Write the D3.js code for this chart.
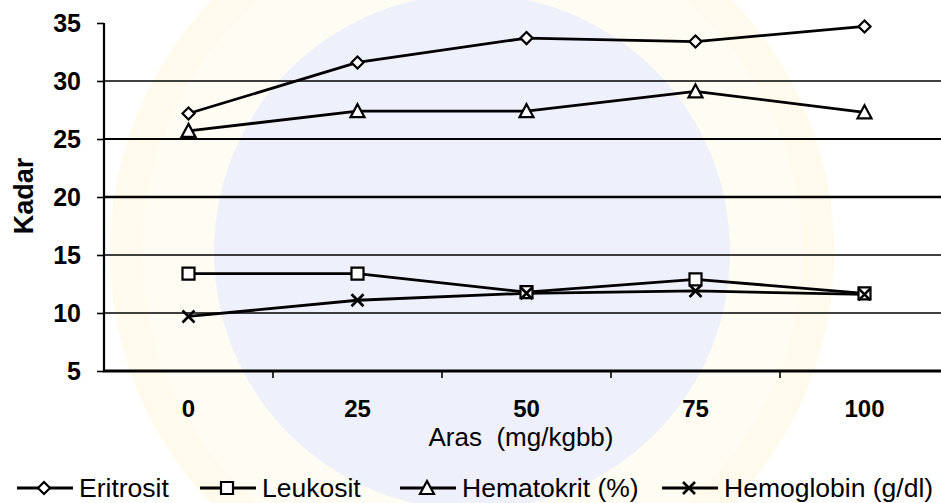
<!DOCTYPE html>
<html>
<head>
<meta charset="utf-8">
<script src="https://cdn.jsdelivr.net/npm/d3@7"></script>
<style>
  html, body { margin: 0; padding: 0; background: #fff; }
  svg { display: block; font-family: "Liberation Sans", Arial, Helvetica, sans-serif; }
</style>
</head>
<body>
<svg id="chart" width="941" height="503"></svg>
<script>
// Dose levels (mg/kgbb)
const categories = ["0", "25", "50", "75", "100"];

// Blood values per dose level
const eritrosit  = [27.2, 31.6, 33.7, 33.4, 34.7];
const leukosit   = [13.4, 13.4, 11.8, 12.9, 11.7];
const hematokrit = [25.7, 27.4, 27.4, 29.1, 27.3];
const hemoglobin = [9.7, 11.1, 11.7, 11.9, 11.6];

const seriesNames = ["Eritrosit", "Leukosit", "Hematokrit (%)", "Hemoglobin (g/dl)"];
const yTicks = [5, 10, 15, 20, 25, 30, 35];
const gridValues = [10, 15, 20, 25, 30];

const W = 941, H = 503;
const plot = { left: 104, right: 949, top: 23, bottom: 371 };

const svg = d3.select("#chart");

// faint seal printed behind the chart
const seal = svg.append("g").attr("class", "seal");
seal.append("circle").attr("cx", 472).attr("cy", 252).attr("r", 362).attr("fill", "#fffaeb");
seal.append("circle").attr("cx", 472).attr("cy", 252).attr("r", 330).attr("fill", "#fffcf3");
seal.append("circle").attr("cx", 472).attr("cy", 252).attr("r", 258).attr("fill", "#eef0fb");

const x = d3.scaleBand().domain(categories).range([plot.left, plot.right]).padding(0);
const y = d3.scaleLinear().domain([5, 35]).range([plot.bottom, plot.top]);
const cx = c => x(c) + x.bandwidth() / 2;

// horizontal gridlines
const gridWidth = { 10: 1.6, 15: 1.4, 20: 2.6, 25: 1.9, 30: 1.3 };
svg.append("g").selectAll("line").data(gridValues).join("line")
  .attr("x1", plot.left).attr("x2", W)
  .attr("y1", d => y(d)).attr("y2", d => y(d))
  .attr("stroke", "#000").attr("stroke-width", d => gridWidth[d]);

// y axis
const yAxis = svg.append("g")
  .attr("transform", `translate(${plot.left},0)`)
  .call(d3.axisLeft(y).tickValues(yTicks).tickSize(7).tickPadding(16));
yAxis.select(".domain").attr("stroke", "#000").attr("stroke-width", 2.2)
  .attr("d", `M0,${plot.top}V${plot.bottom}`);
yAxis.selectAll(".tick line").attr("stroke", "#000").attr("stroke-width", 1.6);
yAxis.selectAll(".tick text")
  .attr("fill", "#000").attr("font-size", 25).attr("font-weight", "bold")
  .attr("font-family", "'Liberation Sans', Arial, sans-serif");

// x axis
const xAxis = svg.append("g")
  .attr("transform", `translate(0,${plot.bottom})`)
  .call(d3.axisBottom(x).tickSize(0).tickPadding(29));
xAxis.select(".domain").remove();
xAxis.selectAll(".tick text")
  .attr("fill", "#000").attr("font-size", 24).attr("font-weight", "bold")
  .attr("font-family", "'Liberation Sans', Arial, sans-serif");
svg.append("line")
  .attr("x1", plot.left - 1).attr("x2", W)
  .attr("y1", plot.bottom).attr("y2", plot.bottom)
  .attr("stroke", "#000").attr("stroke-width", 3);
// tick marks between categories
svg.append("g").selectAll("line").data(categories.slice(1)).join("line")
  .attr("x1", d => x(d)).attr("x2", d => x(d))
  .attr("y1", plot.bottom).attr("y2", plot.bottom + 7)
  .attr("stroke", "#000").attr("stroke-width", 1.6);

// axis titles
svg.append("text")
  .attr("x", 521).attr("y", 446)
  .attr("text-anchor", "middle").attr("font-size", 26)
  .attr("fill", "#000").style("white-space", "pre")
  .text("Aras  (mg/kgbb)");
svg.append("text")
  .attr("transform", "translate(33,196) rotate(-90)")
  .attr("text-anchor", "middle").attr("font-size", 27).attr("font-weight", "bold")
  .attr("fill", "#000")
  .text("Kadar");

// marker shapes
const markerPaths = {
  diamond: "M0,-6L6,0L0,6L-6,0Z",
  square: "M-6,-6H6V6H-6Z",
  triangle: "M0,-7L7,6H-7Z",
  cross: "M-6,-6L6,6M6,-6L-6,6"
};
function drawMarker(g, type) {
  if (type === "cross") {
    g.append("path").attr("d", markerPaths.cross)
      .attr("stroke", "#000").attr("stroke-width", 2.6).attr("fill", "none");
  } else {
    g.append("path").attr("d", markerPaths[type])
      .attr("fill", "#fff").attr("stroke", "#000").attr("stroke-width", 2.2);
  }
}

const series = [
  { name: seriesNames[0], values: eritrosit,  marker: "diamond" },
  { name: seriesNames[1], values: leukosit,   marker: "square" },
  { name: seriesNames[2], values: hematokrit, marker: "triangle" },
  { name: seriesNames[3], values: hemoglobin, marker: "cross" }
];

const line = d3.line().x(d => cx(d.c)).y(d => y(d.v));

series.forEach(s => {
  const pts = categories.map((c, i) => ({ c, v: s.values[i] }));
  svg.append("path").datum(pts)
    .attr("d", line).attr("fill", "none")
    .attr("stroke", "#000").attr("stroke-width", 2.8);
});
series.forEach(s => {
  categories.forEach((c, i) => {
    const g = svg.append("g").attr("transform", `translate(${cx(c)},${y(s.values[i])})`);
    drawMarker(g, s.marker);
  });
});

// legend
const legendX = [17, 200, 400, 662];
const legendY = 488;
series.forEach((s, i) => {
  const g = svg.append("g").attr("transform", `translate(${legendX[i]},${legendY})`);
  g.append("line").attr("x1", 0).attr("x2", 56).attr("y1", 0).attr("y2", 0)
    .attr("stroke", "#000").attr("stroke-width", 3);
  const m = g.append("g").attr("transform", "translate(27,0)");
  drawMarker(m, s.marker);
  g.append("text").attr("x", 62).attr("y", 9)
    .attr("font-size", 26.5).attr("fill", "#000")
    .text(s.name);
});
</script>
</body>
</html>
